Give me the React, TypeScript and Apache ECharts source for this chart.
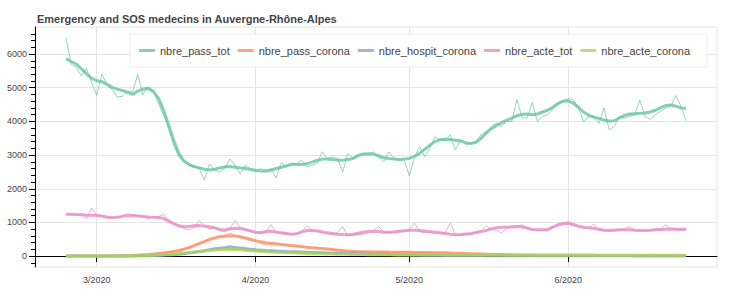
import { useEffect, useRef } from 'react';
import * as echarts from 'echarts';

// ---- data (daily, 2020-02-24 .. 2020-06-24) ----
const START_YEAR = 2020;
const START_MONTH = 1; // February (0-based)
const START_DAY = 24;
const N_DAYS = 122;

const SERIES_NAMES = ['nbre_pass_tot', 'nbre_pass_corona', 'nbre_hospit_corona', 'nbre_acte_tot', 'nbre_acte_corona'];
const COLORS = ['#66c2a5', '#fc8d62', '#8da0cb', '#e78ac3', '#a6d854'];

const MONTH_TICKS = ['2020-03-01', '2020-04-01', '2020-05-01', '2020-06-01'];
const Y_TICKS = [0, 1000, 2000, 3000, 4000, 5000, 6000];
const Y_MINOR_TICKS = [-200, 0, 200, 400, 600, 800, 1000, 1200, 1400, 1600, 1800, 2000, 2200, 2400, 2600, 2800, 3000, 3200, 3400, 3600, 3800, 4000, 4200, 4400, 4600, 4800, 5000, 5200, 5400, 5600, 5800, 6000, 6200, 6400, 6600];

const passTotRaw = [
  6480, 5700, 5600, 5350, 5570, 5150, 4780, 5400, 5100, 4950,
  4720, 4750, 4900, 4880, 5400, 4790, 5040, 4900, 4550, 4200,
  3800, 3300, 2950, 2800, 2700, 2650, 2600, 2260, 2740, 2550,
  2500, 2600, 2880, 2700, 2440, 2700, 2600, 2500, 2600, 2550,
  2600, 2320, 2780, 2650, 2700, 2720, 2850, 2650, 2700, 2750,
  3100, 2900, 2950, 2900, 2500, 3050, 2900, 2950, 3050, 3000,
  3100, 2950, 2800, 3100, 2900, 2850, 2850, 2380, 2950, 3250,
  2950, 3200, 3550, 3450, 3450, 3600, 3150, 3450, 3300, 3350,
  3400, 3600, 3700, 3850, 3950, 3850, 4000, 4000, 4650, 4100,
  4100, 4570, 4000, 4150, 4200, 4350, 4500, 4600, 4680, 4650,
  4400, 3980, 4150, 4150, 3940, 4400, 3750, 3850, 4150, 4100,
  4150, 4200, 4630, 4150, 4060, 4200, 4300, 4400, 4450, 4770,
  4450, 4020,
];
const passTotSmooth = [
  5866, 5780, 5700, 5560, 5420, 5280, 5210, 5180, 5100, 5010,
  4960, 4920, 4860, 4800, 4900, 4960, 4980, 4900, 4700, 4350,
  3900, 3450, 3050, 2830, 2720, 2660, 2620, 2580, 2560, 2580,
  2620, 2650, 2660, 2640, 2620, 2600, 2570, 2550, 2530, 2520,
  2550, 2600, 2640, 2680, 2730, 2730, 2720, 2740, 2790, 2840,
  2880, 2880, 2870, 2850, 2850, 2870, 2900, 2990, 3030, 3040,
  3030, 2980, 2920, 2900, 2880, 2870, 2880, 2900, 2960, 3050,
  3170, 3290, 3400, 3460, 3470, 3460, 3440, 3420, 3370, 3340,
  3380, 3500, 3650, 3780, 3880, 3960, 4040, 4100, 4170, 4210,
  4220, 4200, 4220, 4280, 4330, 4420, 4530, 4600, 4610, 4540,
  4420, 4280, 4180, 4130, 4090, 4040, 4010, 4020, 4100, 4180,
  4220, 4230, 4240, 4250, 4280, 4330, 4400, 4470, 4490, 4450,
  4400, 4390,
];
const passCoronaRaw = [
  0, 0, 0, 0, 0, 0, 1, 2, 4, 6,
  10, 14, 18, 22, 30, 38, 48, 60, 75, 92,
  110, 135, 165, 200, 250, 330, 370, 440, 520, 540,
  580, 590, 690, 600, 560, 510, 470, 440, 380, 330,
  380, 400, 340, 320, 300, 290, 270, 250, 240, 270,
  220, 200, 190, 175, 150, 150, 135, 130, 125, 120,
  125, 120, 118, 120, 115, 112, 140, 110, 108, 106,
  105, 102, 100, 98, 96, 92, 88, 82, 78, 72,
  68, 63, 58, 54, 50, 46, 42, 39, 36, 34,
  30, 29, 28, 27, 26, 25, 25, 24, 24, 23,
  23, 22, 22, 22, 21, 21, 21, 20, 20, 20,
  20, 19, 19, 19, 19, 18, 18, 18, 18, 18,
  18, 18,
];
const passCoronaSmooth = [
  0, 0, 0, 0, 0, 0, 1, 2, 4, 6,
  9, 13, 17, 22, 29, 37, 47, 59, 74, 92,
  112, 137, 168, 205, 250, 310, 370, 430, 490, 540,
  575, 598, 605, 598, 575, 540, 500, 460, 425, 397,
  377, 360, 345, 330, 315, 300, 282, 265, 250, 236,
  224, 210, 195, 180, 166, 153, 142, 135, 130, 127,
  124, 122, 120, 118, 117, 116, 114, 112, 110, 108,
  106, 104, 102, 100, 97, 93, 88, 83, 78, 73,
  68, 63, 58, 54, 50, 46, 42, 39, 36, 34,
  30, 29, 28, 27, 26, 25, 25, 24, 24, 23,
  23, 22, 22, 22, 21, 21, 21, 20, 20, 20,
  20, 19, 19, 19, 19, 18, 18, 18, 18, 18,
  18, 18,
];
const hospitCoronaRaw = [
  0, 0, 0, 0, 0, 0, 0, 1, 1, 2,
  3, 5, 4, 7, 8, 11, 12, 16, 18, 26,
  30, 45, 52, 72, 85, 115, 130, 165, 185, 220,
  230, 245, 330, 245, 235, 215, 210, 185, 180, 165,
  170, 150, 140, 140, 128, 125, 118, 115, 108, 104,
  102, 94, 88, 87, 80, 78, 72, 71, 65, 62,
  57, 56, 51, 50, 45, 44, 39, 38, 33, 31,
  28, 26, 24, 22, 20, 19, 18, 17, 16, 15,
  14, 14, 13, 13, 12, 12, 11, 11, 10, 10,
  10, 9, 9, 9, 9, 9, 8, 8, 8, 8,
  8, 8, 8, 7, 7, 7, 7, 7, 7, 7,
  7, 6, 6, 6, 6, 6, 6, 6, 6, 6,
  6, 6,
];
const hospitCoronaSmooth = [
  0, 0, 0, 0, 0, 0, 0, 0, 1, 2,
  3, 4, 5, 6, 8, 10, 12, 15, 19, 25,
  32, 42, 55, 70, 88, 110, 135, 160, 190, 215,
  235, 250, 255, 250, 238, 222, 205, 190, 178, 168,
  160, 152, 145, 138, 132, 126, 120, 115, 110, 105,
  100, 95, 90, 86, 82, 78, 74, 70, 66, 62,
  58, 55, 52, 49, 46, 43, 40, 37, 34, 31,
  28, 26, 24, 22, 20, 19, 18, 17, 16, 15,
  14, 14, 13, 13, 12, 12, 11, 11, 10, 10,
  10, 9, 9, 9, 9, 9, 8, 8, 8, 8,
  8, 8, 8, 7, 7, 7, 7, 7, 7, 7,
  7, 6, 6, 6, 6, 6, 6, 6, 6, 6,
  6, 6,
];
const acteTotRaw = [
  1250, 1230, 1220, 1260, 1100, 1420, 1220, 1190, 1130, 1140,
  1150, 1180, 1260, 1220, 1210, 1180, 1120, 1150, 1170, 1240,
  1080, 1000, 900, 820, 780, 850, 1060, 900, 800, 830,
  760, 730, 800, 1060, 850, 780, 740, 700, 680, 720,
  930, 700, 690, 680, 640, 660, 730, 900, 770, 740,
  700, 660, 650, 690, 880, 600, 630, 640, 650, 700,
  760, 880, 720, 700, 690, 720, 730, 780, 980, 720,
  700, 700, 680, 680, 700, 980, 620, 630, 640, 660,
  700, 740, 900, 800, 760, 680, 820, 850, 880, 930,
  820, 790, 760, 770, 800, 860, 970, 980, 1020, 900,
  860, 820, 830, 950, 780, 760, 750, 770, 780, 800,
  880, 760, 760, 750, 760, 780, 800, 930, 820, 790,
  760, 800,
];
const acteTotSmooth = [
  1245, 1240, 1235, 1225, 1215, 1210, 1205, 1190, 1160, 1145,
  1150, 1180, 1200, 1205, 1190, 1175, 1160, 1150, 1145, 1120,
  1040, 960, 900, 875, 880, 900, 905, 890, 870, 840,
  790, 775, 810, 830, 820, 790, 750, 710, 700, 720,
  740, 715, 695, 670, 650, 660, 720, 760, 760, 745,
  720, 690, 670, 650, 640, 635, 650, 680, 710, 730,
  735, 730, 710, 705, 720, 740, 755, 765, 765, 760,
  745, 730, 710, 690, 670, 650, 635, 640, 655, 670,
  700, 730, 760, 810, 840, 855, 860, 870, 880, 870,
  830, 790, 780, 780, 785, 860, 920, 960, 975, 940,
  890, 860, 840, 825, 800, 770, 760, 770, 780, 785,
  780, 770, 760, 760, 765, 780, 790, 800, 805, 800,
  795, 795,
];
const acteCoronaRaw = [
  0, 0, 0, 0, 0, 0, 0, 1, 2, 3,
  4, 6, 6, 10, 12, 15, 22, 26, 36, 44,
  56, 66, 82, 93, 112, 124, 142, 153, 170, 178,
  192, 194, 205, 193, 186, 170, 162, 146, 140, 128,
  124, 113, 110, 100, 98, 88, 87, 78, 78, 70,
  70, 62, 61, 56, 55, 50, 49, 45, 45, 41,
  41, 38, 39, 36, 37, 34, 36, 33, 35, 32,
  34, 31, 33, 31, 32, 30, 32, 29, 31, 29,
  31, 29, 30, 28, 30, 28, 29, 27, 29, 27,
  29, 27, 28, 26, 28, 26, 28, 26, 28, 26,
  27, 25, 27, 25, 27, 25, 27, 25, 26, 24,
  26, 24, 26, 24, 26, 24, 26, 24, 26, 24,
  26, 24,
];
const acteCoronaSmooth = [
  0, 0, 0, 0, 0, 0, 0, 1, 2, 3,
  4, 5, 7, 9, 12, 16, 21, 27, 35, 45,
  55, 67, 80, 95, 110, 125, 140, 155, 168, 180,
  190, 196, 198, 195, 185, 172, 160, 148, 138, 130,
  122, 115, 108, 102, 96, 90, 85, 80, 76, 72,
  68, 64, 60, 57, 54, 51, 48, 46, 44, 42,
  40, 39, 38, 37, 36, 35, 35, 34, 34, 33,
  33, 32, 32, 32, 31, 31, 31, 30, 30, 30,
  30, 30, 29, 29, 29, 29, 28, 28, 28, 28,
  28, 28, 27, 27, 27, 27, 27, 27, 27, 27,
  26, 26, 26, 26, 26, 26, 26, 26, 25, 25,
  25, 25, 25, 25, 25, 25, 25, 25, 25, 25,
  25, 25,
];

const RAW = [passTotRaw, passCoronaRaw, hospitCoronaRaw, acteTotRaw, acteCoronaRaw];
const SMOOTH = [passTotSmooth, passCoronaSmooth, hospitCoronaSmooth, acteTotSmooth, acteCoronaSmooth];

const FONT = "'Liberation Sans', Arial, Helvetica, sans-serif";

export default function App() {
  const ref = useRef<HTMLDivElement>(null);
  useEffect(() => {
    if (!ref.current) return;
    const chart = echarts.init(ref.current, undefined, { renderer: 'svg' });
    const dates: number[] = [];
    for (let i = 0; i < N_DAYS; i++) dates.push(new Date(START_YEAR, START_MONTH, START_DAY + i).getTime());
    const monthTs = MONTH_TICKS.map((s) => {
      const [y, m, d] = s.split('-').map(Number);
      return new Date(y, m - 1, d).getTime();
    });
    const pad = (dates[N_DAYS - 1] - dates[0]) * 0.05;
    const xMin = dates[0] - pad;
    const xMax = dates[N_DAYS - 1] + pad;
    const yMin = -324;
    const yMax = 6804;

    const series: any[] = [];
    SERIES_NAMES.forEach((name, k) => {
      series.push({
        type: 'line',
        name: name + ' (daily)',
        data: RAW[k].map((v, i) => [dates[i], v]),
        symbol: 'none',
        silent: true,
        lineStyle: { width: 1, color: COLORS[k], opacity: 0.7 },
        itemStyle: { color: COLORS[k] },
        z: 2,
      });
      series.push({
        type: 'line',
        name,
        data: SMOOTH[k].map((v, i) => [dates[i], v]),
        symbol: 'none',
        lineStyle: { width: 3, color: COLORS[k], opacity: 0.8 },
        itemStyle: { color: COLORS[k] },
        z: 3,
      });
    });

    chart.setOption({
      animation: false,
      backgroundColor: '#ffffff',
      textStyle: { fontFamily: FONT },
      title: {
        text: 'Emergency and SOS medecins in Auvergne-Rhône-Alpes',
        left: 32,
        top: 8,
        textStyle: { fontSize: 11, fontWeight: 'bold', color: '#444444', fontFamily: FONT },
      },
      legend: {
        data: SERIES_NAMES.map((n, k) => ({ name: n, icon: 'rect', itemStyle: { color: COLORS[k], opacity: 0.8 } })),
        left: 130,
        top: 34,
        orient: 'horizontal',
        itemWidth: 16,
        itemHeight: 3,
        itemGap: 8,
        padding: [10, 17, 10, 9],
        backgroundColor: 'rgba(255,255,255,0.95)',
        borderColor: '#ececec',
        borderWidth: 1,
        textStyle: { fontSize: 11, color: '#444444', fontFamily: FONT, lineHeight: 13 },
      },
      grid: {
        left: 35,
        right: 24,
        top: 27,
        bottom: 22,
        show: true,
        borderColor: '#e5e5e5',
        borderWidth: 1,
        backgroundColor: 'transparent',
      },
      xAxis: {
        type: 'value',
        min: xMin,
        max: xMax,
        axisLine: { show: true, lineStyle: { color: '#000000', width: 1 } },
        axisTick: { show: true, customValues: monthTs, length: 6, lineStyle: { color: '#000000' } },
        axisLabel: {
          customValues: monthTs,
          color: '#444444',
          fontSize: 9,
          margin: 8,
          fontFamily: FONT,
          formatter: (v: number) => {
            const d = new Date(v);
            return `${d.getMonth() + 1}/${d.getFullYear()}`;
          },
        },
        splitLine: { show: true, lineStyle: { color: '#e5e5e5', width: 1 } },
      },
      yAxis: [
        {
          type: 'value',
          min: yMin,
          max: yMax,
          axisLine: { show: true, lineStyle: { color: '#000000', width: 1 } },
          axisTick: { show: true, customValues: Y_TICKS, length: 6, lineStyle: { color: '#000000' } },
          axisLabel: {
            customValues: Y_TICKS,
            color: '#444444',
            fontSize: 9,
            margin: 8,
            fontFamily: FONT,
            formatter: (v: number) => String(v),
          },
          splitLine: { show: true, lineStyle: { color: '#e5e5e5', width: 1 } },
        },
        {
          type: 'value',
          min: yMin,
          max: yMax,
          position: 'left',
          axisLine: { show: false },
          axisTick: { show: true, customValues: Y_MINOR_TICKS, length: 4, lineStyle: { color: '#000000' } },
          axisLabel: { show: false },
          splitLine: { show: false },
        },
      ],
      series,
    });
    return () => chart.dispose();
  }, []);
  return (
    <div
      ref={ref}
      style={{ position: 'absolute', left: 0, top: 0, width: 741, height: 289 }}
    />
  );
}
